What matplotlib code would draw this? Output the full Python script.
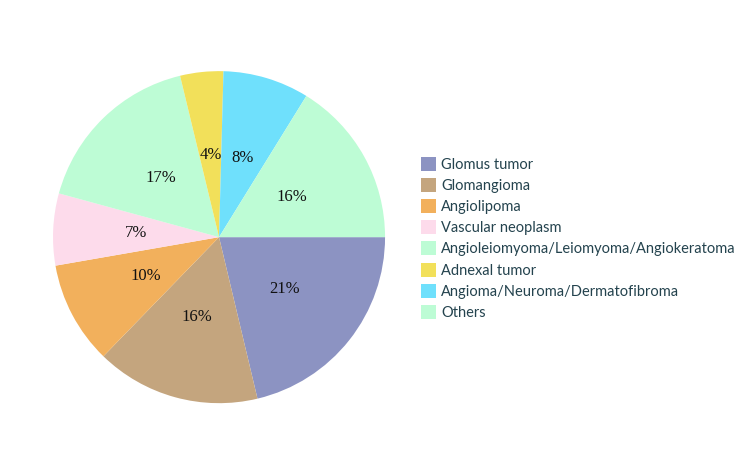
import matplotlib
matplotlib.use("Agg")
import matplotlib.pyplot as plt

# Share of lesion types (percent), clockwise from 3 o'clock
labels = ["Glomus tumor", "Glomangioma", "Angiolipoma", "Vascular neoplasm",
          "Angioleiomyoma/Leiomyoma/Angiokeratoma", "Adnexal tumor",
          "Angioma/Neuroma/Dermatofibroma", "Others"]
values = [21.3, 16.0, 10.0, 7.0, 17.0, 4.2, 8.4, 16.2]
colors = ["#8C93C2", "#C4A57E", "#F2B05C", "#FDDBEB",
          "#BDFCD5", "#F2E05A", "#6FE0FC", "#BDFCD5"]

fig = plt.figure(figsize=(7.5, 4.5), dpi=100)
ax = fig.add_axes([0.0707, 0.104, 0.4427, 0.738])

wedges, texts, autotexts = ax.pie(
    values, colors=colors, startangle=0, counterclock=False,
    autopct=lambda p: f"{p:.0f}%", pctdistance=0.5,
    textprops=dict(family="Liberation Serif", fontsize=12, color="#111111"))
ax.set_xlim(-1, 1)
ax.set_ylim(-1, 1)
ax.set_aspect("equal")

fig.legend(wedges, labels, loc="upper left", bbox_to_anchor=(0.553, 0.665),
           frameon=False, prop=dict(family="Lato", size=10.5),
           labelcolor="#24434E", handlelength=1.05, handleheight=1.1,
           handletextpad=0.35, labelspacing=0.43, borderaxespad=0)

fig.savefig("out.png", dpi=100)
